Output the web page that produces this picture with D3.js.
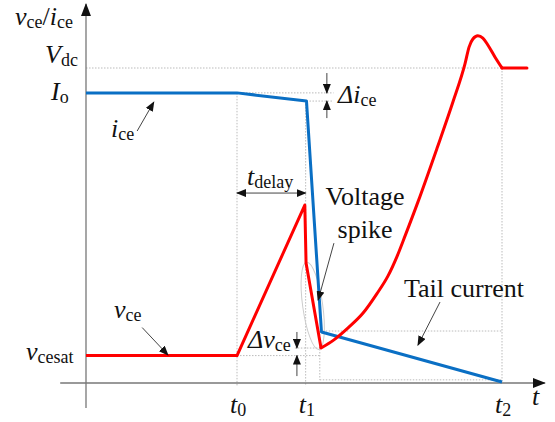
<!DOCTYPE html>
<html>
<head>
<meta charset="utf-8">
<script src="https://d3js.org/d3.v7.min.js"></script>
<style>
  body { margin: 0; background: #fff; }
</style>
</head>
<body>
<script>
// time marks on the t axis
var tickNames = ["0", "1", "2"];
var tickTimes = [3.63, 5.28, 10];

// reference levels (Vdc = 100)
var levelVdc = 100;
var levelIo = 92.1;
var levelIoDrop = 89.5;
var levelSat = 8.7;
var levelVmin = 11.1;
var tailTop = 16.5;
var tailBottom = 1;

// collector current i_ce
var iceTime = [0, 3.63, 5.3, 5.66, 10];
var iceVal = [92.1, 92.1, 89.5, 16.2, 0.3];

// collector-emitter voltage v_ce, sharp part
var vceTime = [0, 3.63, 5.26, 5.29, 5.65];
var vceVal = [8.7, 8.7, 56.5, 38.1, 11.1];

// v_ce recovery with overshoot
var riseTime = [5.65, 5.96, 6.30, 6.66, 6.99, 7.26, 7.48, 7.67, 7.98, 8.44, 8.82, 9.11, 9.21, 9.30, 9.42, 9.54, 9.66, 9.83, 10];
var riseVal = [11.1, 13.7, 17.5, 22.2, 28.3, 34.0, 40.3, 46.7, 57.5, 74.6, 89.2, 101.3, 106.7, 109.2, 110.2, 109.5, 107.3, 103.5, 100];

// v_ce settled at Vdc
var flatTime = [10, 10.6];
var flatVal = [100, 100];

var width = 555, height = 422;
var serif = "'Liberation Serif'";

var x = d3.scaleLinear().domain([0, 10]).range([86, 502]);
var y = d3.scaleLinear().domain([0, 100]).range([383, 68]);

var svg = d3.select("body")
    .append("svg")
    .attr("width", width)
    .attr("height", height);

var defs = svg.append("defs");
defs.append("marker")
    .attr("id", "head")
    .attr("markerUnits", "userSpaceOnUse")
    .attr("markerWidth", 10).attr("markerHeight", 8)
    .attr("refX", 9).attr("refY", 4)
    .attr("orient", "auto-start-reverse")
    .append("path").attr("d", "M0,0L10,4L0,8Z").attr("fill", "#111");
defs.append("marker")
    .attr("id", "bighead")
    .attr("markerUnits", "userSpaceOnUse")
    .attr("markerWidth", 13).attr("markerHeight", 10)
    .attr("refX", 12).attr("refY", 5)
    .attr("orient", "auto")
    .append("path").attr("d", "M0,0L13,5L0,10Z").attr("fill", "#111");

function zip(ts, vs) {
    return ts.map(function (t, i) { return [t, vs[i]]; });
}

var line = d3.line()
    .x(function (d) { return x(d[0]); })
    .y(function (d) { return y(d[1]); });

function dotted(t1, v1, t2, v2) {
    svg.append("line")
        .attr("x1", x(t1)).attr("y1", y(v1))
        .attr("x2", x(t2)).attr("y2", y(v2))
        .attr("stroke", "#bbb")
        .attr("stroke-width", 1)
        .attr("stroke-dasharray", "1.5,1.5");
}

function arrow(t1, v1, t2, v2, both) {
    var l = svg.append("line")
        .attr("x1", x(t1)).attr("y1", y(v1))
        .attr("x2", x(t2)).attr("y2", y(v2))
        .attr("stroke", "#444")
        .attr("stroke-width", 1)
        .attr("marker-end", "url(#head)");
    if (both) l.attr("marker-start", "url(#head)");
}

// parts: [text, italic, subscript]
function label(px, py, parts) {
    var t = svg.append("text")
        .attr("x", px).attr("y", py)
        .style("font-family", serif)
        .style("fill", "#111");
    parts.forEach(function (p, i) {
        var s = t.append("tspan")
            .text(p[0])
            .style("font-family", serif)
            .style("font-size", (p[2] ? 18 : 26) + "px")
            .style("font-style", p[1] ? "italic" : "normal");
        if (p[2]) s.attr("dy", 3);
        else if (i > 0 && parts[i - 1][2]) s.attr("dy", -3);
    });
    return t;
}

function plain(px, py, str) {
    svg.append("text")
        .attr("x", px).attr("y", py)
        .attr("text-anchor", "middle")
        .style("font-family", serif)
        .style("font-size", "26px")
        .style("fill", "#111")
        .text(str);
}

// guide lines
dotted(0, levelVdc, 10, levelVdc);
dotted(tickTimes[0], levelIo, 5.95, levelIo);
dotted(5.3, levelIoDrop, 5.95, levelIoDrop);
dotted(tickTimes[0], levelIo, tickTimes[0], -1);
dotted(tickTimes[1], levelIoDrop, tickTimes[1], -1);
dotted(tickTimes[2], levelVdc, tickTimes[2], 0);
dotted(5.02, levelVmin, 5.65, levelVmin);
dotted(tickTimes[0], levelSat, 5.62, levelSat);
dotted(5.62, tailTop, 10, tailTop);
dotted(5.62, tailBottom, 10, tailBottom);
dotted(5.62, tailTop, 5.62, tailBottom);

// spike ellipse
svg.append("ellipse")
    .attr("cx", x(5.45)).attr("cy", y(24.5))
    .attr("rx", 10).attr("ry", 44)
    .attr("transform", "rotate(-8," + x(5.45) + "," + y(24.5) + ")")
    .attr("fill", "none")
    .attr("stroke", "#ccc")
    .attr("stroke-width", 1);

// axes
svg.append("line")
    .attr("x1", x(-0.62)).attr("y1", y(0))
    .attr("x2", x(11.03)).attr("y2", y(0))
    .attr("stroke", "#777").attr("stroke-width", 1.3)
    .attr("marker-end", "url(#bighead)");
svg.append("line")
    .attr("x1", x(0)).attr("y1", y(-7.9))
    .attr("x2", x(0)).attr("y2", y(120.3))
    .attr("stroke", "#777").attr("stroke-width", 1.3)
    .attr("marker-end", "url(#bighead)");

// curves
svg.append("path")
    .attr("d", line(zip(iceTime, iceVal)))
    .attr("fill", "none").attr("stroke", "#0a6fc4")
    .attr("stroke-width", 3).attr("stroke-linejoin", "round");

svg.append("path")
    .attr("d", line(zip(vceTime, vceVal)))
    .attr("fill", "none").attr("stroke", "#ff0000")
    .attr("stroke-width", 3).attr("stroke-linejoin", "round");

svg.append("path")
    .attr("d", line.curve(d3.curveMonotoneX)(zip(riseTime, riseVal)))
    .attr("fill", "none").attr("stroke", "#ff0000")
    .attr("stroke-width", 3).attr("stroke-linejoin", "round")
    .attr("stroke-linecap", "round");
line.curve(d3.curveLinear);

svg.append("path")
    .attr("d", line(zip(flatTime, flatVal)))
    .attr("fill", "none").attr("stroke", "#ff0000")
    .attr("stroke-width", 3).attr("stroke-linecap", "round");

// annotation arrows
arrow(1.23, 80, 1.63, 89.2);                 // i_ce
arrow(1.35, 17.6, 1.97, 8.9);                // v_ce
arrow(tickTimes[0], 60.3, tickTimes[1], 60.3, true); // t_delay
arrow(5.96, 44.4, 5.58, 26.3);               // voltage spike
arrow(8.51, 25.7, 7.98, 12);                 // tail current
arrow(5.79, 98.4, 5.79, levelIo);            // delta i_ce
arrow(5.79, 84.1, 5.79, levelIoDrop);
arrow(5.07, 16.2, 5.07, levelVmin);          // delta v_ce
arrow(5.07, 2.2, 5.07, levelSat);

// labels
label(15, 25, [["v", true], ["ce", false, true], ["/", false], ["i", true], ["ce", false, true]]);
label(45, 63, [["V", true], ["dc", false, true]]);
label(51, 100, [["I", true], ["o", false, true]]);
label(26, 360, [["v", true], ["cesat", false, true]]);
label(111, 137, [["i", true], ["ce", false, true]]);
label(114, 318, [["v", true], ["ce", false, true]]);
label(247, 185, [["t", true], ["delay", false, true]]);
label(248, 348, [["\u0394", true], ["v", true], ["ce", false, true]]);
label(338, 103, [["\u0394", true], ["i", true], ["ce", false, true]]);

plain(365, 205, "Voltage");
plain(365, 238, "spike");
plain(464, 297, "Tail current");

tickTimes.forEach(function (t, i) {
    label(x(t) - 7, 413, [["t", true], [tickNames[i], false, true]]);
});
label(532, 405, [["t", true]]);
</script>
</body>
</html>
